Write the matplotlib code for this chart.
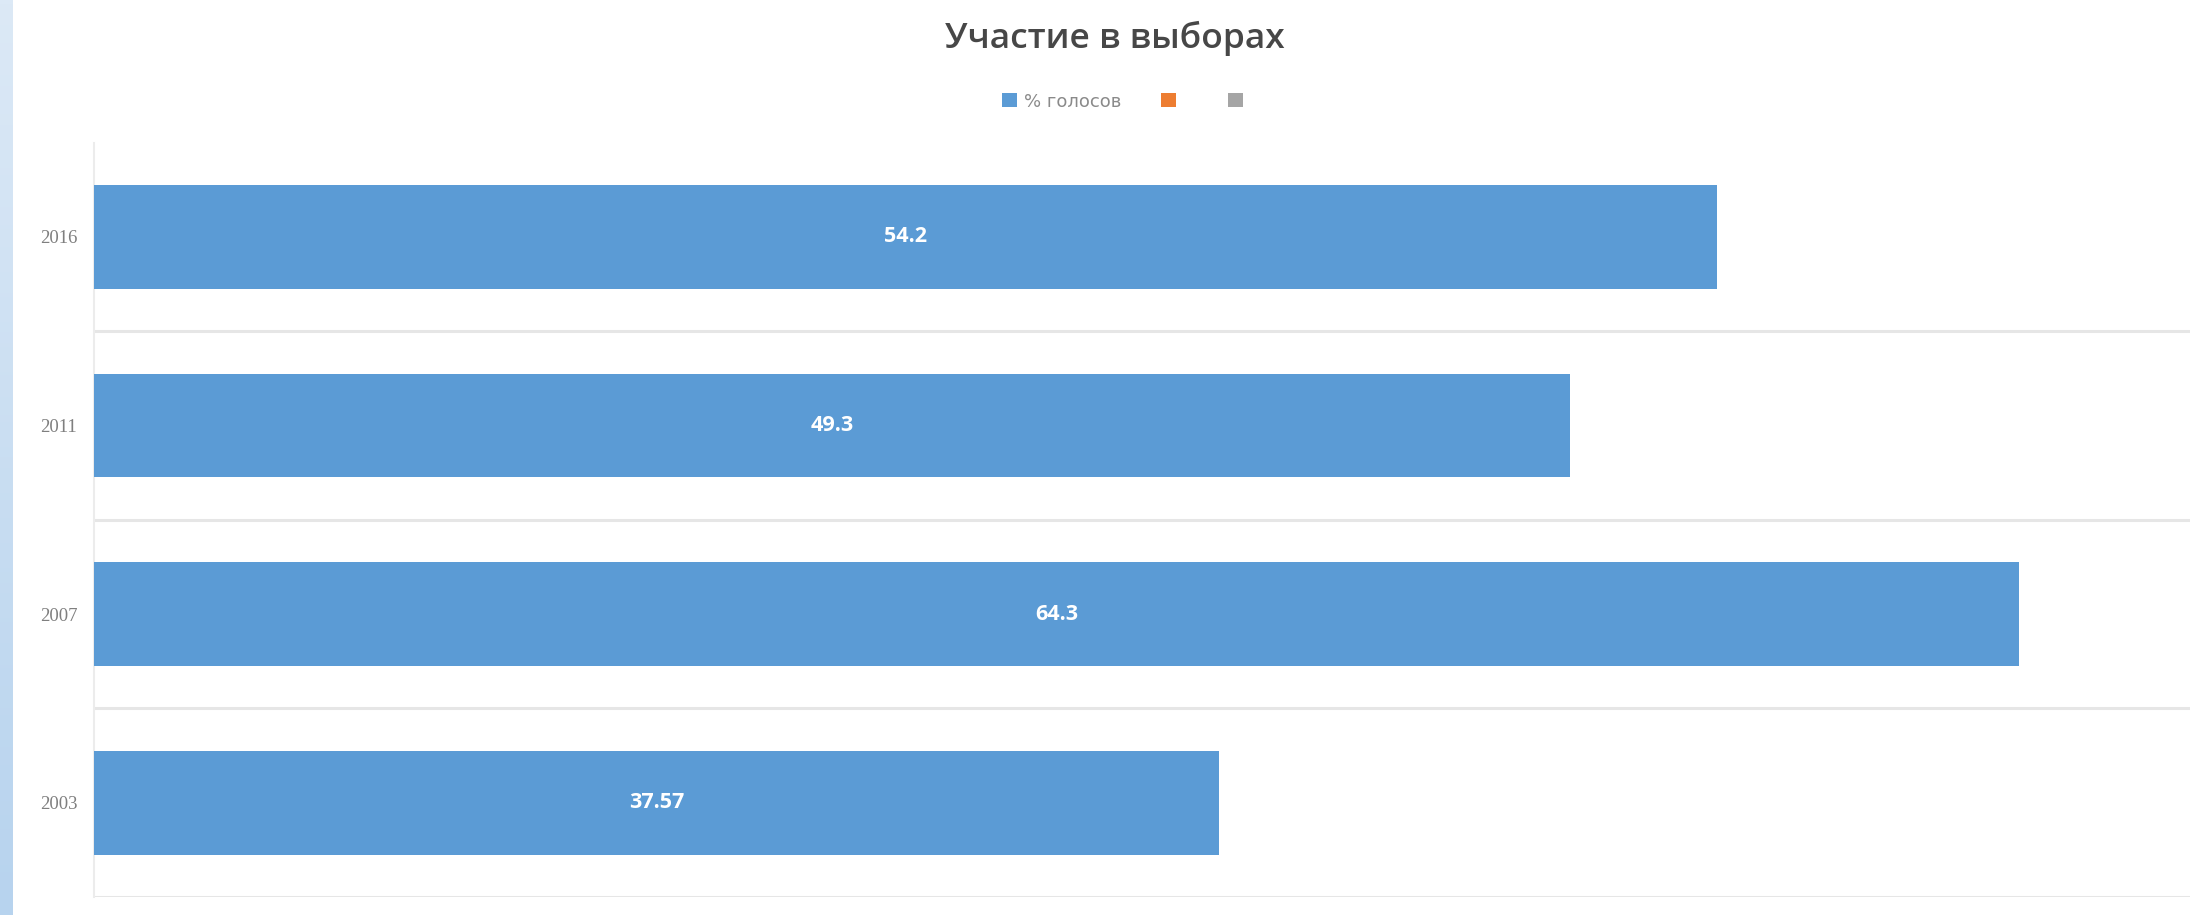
import numpy as np
import matplotlib.pyplot as plt
from matplotlib.patches import Patch

years = ['2003', '2007', '2011', '2016']
votes = [37.57, 64.3, 49.3, 54.2]
vote_labels = ['37.57', '64.3', '49.3', '54.2']
legend_names = ['% голосов', ' ', ' ']
legend_colors = ['#5b9bd5', '#ed7d31', '#a5a5a5']

fig = plt.figure(figsize=(22.01, 9.15), dpi=100)
fig.patch.set_facecolor('white')

# light blue strip on the left edge
strip = fig.add_axes([0, 0, 0.0055, 1])
grad = np.linspace(0, 1, 256).reshape(-1, 1)
strip.imshow(grad, aspect='auto', cmap=plt.matplotlib.colors.LinearSegmentedColormap.from_list(
    's', ['#dce9f6', '#b7d3ee']), extent=[0, 1, 0, 1])
strip.axis('off')

ax = fig.add_axes([0.0427, 0.0197, 0.9523, 0.8245])
y = np.arange(len(years))
bars = ax.barh(y, votes, height=0.55, color=legend_colors[0], zorder=3)

for b, lab in zip(bars, vote_labels):
    ax.text(b.get_width() / 2, b.get_y() + b.get_height() / 2, lab,
            ha='center', va='center', color='white', fontsize=15.5,
            fontweight='bold', family='Open Sans', zorder=4)

ax.set_xlim(0, 70)
ax.set_ylim(-0.5, 3.5)
ax.set_xticks([])
ax.set_yticks(y)
ax.set_yticklabels(years, family='Liberation Serif', fontsize=13.5, color='#7f7f7f')
ax.tick_params(axis='y', length=0, pad=12)
ax.set_yticks([-0.5, 0.5, 1.5, 2.5], minor=True)
ax.tick_params(axis='y', which='minor', length=0)
ax.grid(axis='y', which='minor', color='#e6e6e6', linewidth=2.2, zorder=0)
for s in ['top', 'right', 'bottom']:
    ax.spines[s].set_visible(False)
ax.spines['left'].set_color('#ececec')
ax.spines['left'].set_linewidth(1.5)

fig.text(0.5064, 0.958, 'Участие в выборах', ha='center', va='center',
         fontsize=25.5, color='#474747', family='Open Sans', fontweight='semibold')

handles = [Patch(facecolor=c, edgecolor='none') for c in legend_colors]
fig.legend(handles, legend_names, loc='center', bbox_to_anchor=(0.513, 0.889),
           ncol=3, frameon=False, fontsize=13, handlelength=0.8, handleheight=0.8,
           columnspacing=2.2, handletextpad=0.4, labelcolor='#8a8a8a')

fig.savefig('out.png', dpi=100)
